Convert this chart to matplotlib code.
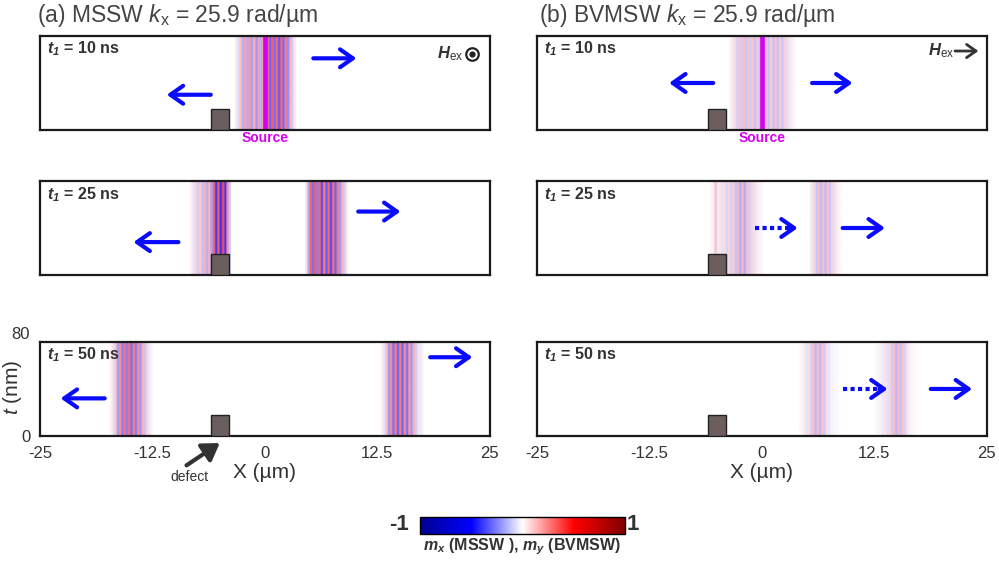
import numpy as np
import matplotlib
matplotlib.use("Agg")
import matplotlib.pyplot as plt
from matplotlib.patches import Rectangle, ArrowStyle
from matplotlib.cm import ScalarMappable
from matplotlib.colors import Normalize, LinearSegmentedColormap

plt.rcParams["font.family"] = ["Liberation Sans", "DejaVu Sans"]
plt.rcParams["mathtext.fontset"] = "custom"
plt.rcParams["mathtext.rm"] = "Liberation Sans"
plt.rcParams["mathtext.it"] = "Liberation Sans:italic"
plt.rcParams["mathtext.bf"] = "Liberation Sans:bold"
plt.rcParams["mathtext.bfit"] = "Liberation Sans:italic:bold"
plt.rcParams["axes.unicode_minus"] = False

# ---- data ----
TIMES = [10, 25, 50]                       # t1 (ns)
X_TICKS = [-25, -12.5, 0, 12.5, 25]
X_TICKLABELS = ["-25", "-12.5", "0", "12.5", "25"]
THICK = 80                                 # film thickness t (nm)
DEFECT = (-6.0, -4.0, 18)                  # x0, x1 (um), height (nm)

# wave packets: x span (um) and stripe values of m (about 0.25 um per stripe)
mssw_t10_span = (-3.3, 3.4)
mssw_t10_m = [0.04, -0.07, 0.12, -0.15, 0.18, -0.15, 0.2, -0.18, 0.15, -0.2,
              0.18, -0.15, 0.2, -0.22, 0.28, -0.3, 0.32, -0.28, 0.3, -0.32, 0.3,
              -0.28, 0.25, -0.22, 0.15, -0.09, 0.04]
mssw_t25a_span = (-8.3, -3.8)
mssw_t25a_m = [0.03, -0.05, 0.08, -0.1, 0.1, -0.12, 0.15, -0.15, 0.15, -0.18,
               0.3, -0.38, 0.32, -0.4, 0.35, -0.38, 0.22, -0.1]
mssw_t25b_span = (4.5, 9.2)
mssw_t25b_m = [0.05, -0.15, 0.3, -0.28, 0.32, -0.25, 0.3, -0.35, 0.25, -0.32,
               0.3, -0.35, 0.28, -0.3, 0.25, -0.2, 0.15, -0.1, 0.04]
mssw_t50a_span = (-17.2, -12.5)
mssw_t50a_m = [0.03, -0.06, 0.11, -0.18, 0.22, -0.25, 0.28, -0.25, 0.28, -0.28,
               0.25, -0.25, 0.22, -0.2, 0.15, -0.11, 0.08, -0.04, 0.02]
mssw_t50b_span = (12.9, 17.6)
mssw_t50b_m = [0.03, -0.06, 0.12, -0.2, 0.22, -0.28, 0.25, -0.3, 0.25, -0.3,
               0.22, -0.28, 0.2, -0.2, 0.15, -0.1, 0.06, -0.04, 0.02]

bvmsw_t10_span = (-3.6, 3.7)
bvmsw_t10_m = [0.02, -0.04, 0.07, -0.09, 0.11, -0.1, 0.12, -0.11, 0.12, -0.1,
               0.11, -0.12, 0.1, -0.11, 0.12, -0.12, 0.11, -0.12, 0.1, -0.12,
               0.11, -0.12, 0.1, -0.11, 0.09, -0.07, 0.05, -0.03, 0.02]
bvmsw_t25a_span = (-5.8, 0.1)
bvmsw_t25a_m = [0.02, -0.03, 0.12, -0.04, 0.05, -0.06, 0.07, -0.08, 0.08, -0.09,
                0.1, -0.12, 0.14, -0.16, 0.14, -0.16, 0.12, -0.1, 0.08, -0.06,
                0.05, -0.03, 0.02, -0.01]
bvmsw_t25b_span = (5.3, 8.9)
bvmsw_t25b_m = [0.02, -0.05, 0.08, -0.11, 0.13, -0.14, 0.12, -0.14, 0.12, -0.11,
                0.08, -0.06, 0.04, -0.02, 0.01]
bvmsw_t50a_span = (4.1, 8.5)
bvmsw_t50a_m = [0.01, -0.02, 0.04, -0.06, 0.07, -0.09, 0.12, -0.14, 0.13, -0.14,
                0.12, -0.1, 0.07, -0.05, 0.03, -0.02, 0.01, -0.01]
bvmsw_t50b_span = (12.6, 17.6)
bvmsw_t50b_m = [0.01, -0.02, 0.03, -0.04, 0.05, -0.06, 0.08, -0.1, 0.13, -0.14,
                0.14, -0.12, 0.11, -0.08, 0.05, -0.03, 0.02, -0.01, 0.01, 0.0]

# propagation arrows: (x start, x end, y, dotted)
mssw_arrows = [
    [(-6.0, -10.9, 30, False), (5.4, 10.2, 61, False)],
    [(-9.6, -14.6, 28, False), (10.4, 15.1, 54, False)],
    [(-17.8, -22.7, 32, False), (18.4, 23.1, 67, False)],
]
bvmsw_arrows = [
    [(-5.4, -10.3, 40, False), (5.6, 10.1, 40, False)],
    [(-0.8, 4.0, 40, True), (9.0, 13.7, 40, False)],
    [(9.0, 14.0, 40, True), (18.8, 23.4, 40, False)],
]

mssw_packets = [
    [(mssw_t10_span, mssw_t10_m)],
    [(mssw_t25a_span, mssw_t25a_m), (mssw_t25b_span, mssw_t25b_m)],
    [(mssw_t50a_span, mssw_t50a_m), (mssw_t50b_span, mssw_t50b_m)],
]
bvmsw_packets = [
    [(bvmsw_t10_span, bvmsw_t10_m)],
    [(bvmsw_t25a_span, bvmsw_t25a_m), (bvmsw_t25b_span, bvmsw_t25b_m)],
    [(bvmsw_t50a_span, bvmsw_t50a_m), (bvmsw_t50b_span, bvmsw_t50b_m)],
]

BLUE = "#0a0aff"
MAGENTA = "#d400f0"
TXT = "#333333"
CMAP = LinearSegmentedColormap.from_list(
    "bwr_dark", [(0, "#000090"), (0.25, "#0000ff"), (0.5, "#ffffff"),
                 (0.75, "#ff0000"), (1, "#800000")])
HEAD = ArrowStyle("->", head_length=0.4, head_width=0.28)


def blue_arrow(ax, x0, x1, y, dotted):
    if dotted:
        d = np.sign(x1 - x0)
        ax.plot([x0, x1 - d * 0.4], [y, y], color=BLUE, lw=3,
                ls=(0, (1, 0.8)), solid_capstyle="butt", zorder=4)
        x0 = x1 - d * 0.9
    ax.annotate("", xy=(x1, y), xytext=(x0, y),
                arrowprops=dict(arrowstyle=HEAD, color=BLUE, lw=3,
                                mutation_scale=23, shrinkA=0, shrinkB=0),
                zorder=4)


fig = plt.figure(figsize=(9.99, 5.64), dpi=100)
col_x = [0.040, 0.5375]
row_y = [0.7695, 0.5124, 0.2270]
W, H = 0.4500, 0.1667

titles = [r"(a) MSSW $k_\mathregular{x}$ = 25.9 rad/µm",
          r"(b) BVMSW $k_\mathregular{x}$ = 25.9 rad/µm"]
all_packets = [mssw_packets, bvmsw_packets]
all_arrows = [mssw_arrows, bvmsw_arrows]

for c in range(2):
    fig.text(col_x[c] - 0.003 + 0.005 * c, 0.972, titles[c], fontsize=16.5,
             color="#444444", ha="left", va="center")
    for r in range(3):
        ax = fig.add_axes([col_x[c], row_y[r], W, H])
        for (x0, x1), vals in all_packets[c][r]:
            ax.imshow(np.array(vals)[None, :], extent=(x0, x1, 0, THICK),
                      aspect="auto", cmap=CMAP, vmin=-1, vmax=1,
                      interpolation="antialiased", zorder=1)
        ax.set_xlim(-25, 25)
        ax.set_ylim(0, THICK)
        ax.add_patch(Rectangle((DEFECT[0], 0), DEFECT[1] - DEFECT[0], DEFECT[2],
                               fc="#6b5e5e", ec="#222222", lw=1, zorder=3))
        for x0, x1, y, dotted in all_arrows[c][r]:
            blue_arrow(ax, x0, x1, y, dotted)
        for s in ax.spines.values():
            s.set_linewidth(1.6)
            s.set_color("#1a1a1a")
        ax.text(0.016, 0.86, r"$\mathbfit{t}_{\mathbfit{1}}$ = %d ns" % TIMES[r],
                transform=ax.transAxes, fontsize=11.5, fontweight="bold",
                color=TXT, ha="left", va="center")
        ax.tick_params(length=0, labelsize=12, colors=TXT, pad=7)
        if r == 0:
            ax.axvline(0, color=MAGENTA, lw=3.3, zorder=2)
            ax.text(0, -7, "Source", color=MAGENTA, fontsize=10,
                    fontweight="bold", ha="center", va="center", clip_on=False)
        if r == 2:
            ax.set_xticks(X_TICKS)
            ax.set_xticklabels(X_TICKLABELS)
            ax.set_xlabel("X (µm)", fontsize=15, color=TXT, labelpad=2)
        else:
            ax.set_xticks([])
        if c == 0 and r == 2:
            ax.set_yticks([0, THICK])
            ax.set_yticklabels(["0", "80"])
            ax.get_yticklabels()[1].set_va("bottom")
            ax.text(-8.4, -35, "defect", fontsize=10, color=TXT,
                    ha="center", va="center", clip_on=False)
            ax.annotate("", xy=(-5.0, -6), xytext=(-8.7, -25),
                        annotation_clip=False,
                        arrowprops=dict(arrowstyle="-|>,head_length=0.5,head_width=0.32",
                                        color="#333333", lw=3, mutation_scale=20,
                                        shrinkA=0, shrinkB=0))
        else:
            ax.set_yticks([])
        if r == 0 and c == 0:
            ax.text(0.942, 0.81, r"$\mathbfit{H}_{\mathregular{ex}}$",
                    transform=ax.transAxes, fontsize=12, color=TXT,
                    ha="right", va="center")
            ax.plot([0.96], [0.81], "o", ms=9, mfc="white", mec="#222222",
                    mew=1.6, transform=ax.transAxes, clip_on=False, zorder=5)
            ax.plot([0.96], [0.81], "o", ms=3.5, color="#222222",
                    transform=ax.transAxes, clip_on=False, zorder=6)
        if r == 0 and c == 1:
            ax.text(0.929, 0.84, r"$\mathbfit{H}_{\mathregular{ex}}$",
                    transform=ax.transAxes, fontsize=12, color=TXT,
                    ha="right", va="center")
            ax.annotate("", xy=(0.982, 0.84), xytext=(0.93, 0.84),
                        xycoords="axes fraction",
                        arrowprops=dict(arrowstyle=HEAD, color=TXT, lw=2,
                                        mutation_scale=17, shrinkA=0, shrinkB=0))

fig.text(13 / 999, 1 - 387 / 564, r"$t$ (nm)", fontsize=15, color=TXT,
         rotation=90, ha="center", va="center")

# colour bar
cax = fig.add_axes([0.4204, 0.0532, 0.2052, 0.0301])
cb = fig.colorbar(ScalarMappable(Normalize(-1, 1), CMAP), cax=cax,
                  orientation="horizontal")
cb.set_ticks([])
cb.outline.set_linewidth(1)
fig.text(399 / 999, 1 - 525 / 564, "-1", fontsize=16, fontweight="bold",
         color=TXT, ha="center", va="center")
fig.text(633 / 999, 1 - 525 / 564, "1", fontsize=16, fontweight="bold",
         color=TXT, ha="center", va="center")
fig.text(522 / 999, 1 - 547 / 564,
         r"$\mathbfit{m}_{\mathbfit{x}}$ (MSSW ), $\mathbfit{m}_{\mathbfit{y}}$ (BVMSW)",
         fontsize=11.5, fontweight="bold", color=TXT, ha="center", va="center")

fig.savefig("out.png", dpi=100)
